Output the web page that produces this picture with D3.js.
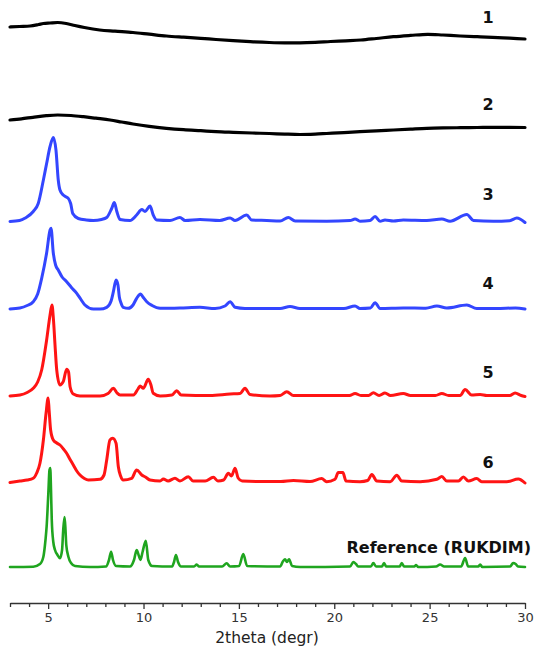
<!DOCTYPE html>
<html><head><meta charset="utf-8">
<script src="https://cdn.jsdelivr.net/npm/d3@7"></script>
<style>body{margin:0;background:#fff}svg{display:block}</style>
</head><body>
<svg id="chart" width="538" height="649"></svg>
<script>
// ---- data: [2theta, intensity above own baseline] ----
const pattern1 = [[3,16],[3.5,16.5],[4.05,17],[4.5,18.5],[4.75,19.5],[5.1,20],[5.5,20.5],[5.95,19.5],[6.4,17.5],[6.9,15.5],[7.7,13],[8.5,11.8],[9.45,10.5],[10.3,8.8],[11.2,7],[12.1,5.8],[13,4.7],[13.8,3.5],[14.7,2.3],[15.6,1.3],[16.6,0.5],[17.4,0.2],[18.2,0.2],[19,0.6],[19.8,1.5],[20.6,2.2],[21.4,3],[22.2,4.5],[23.1,6.3],[24,7.6],[24.9,8.7],[25.7,8],[26.6,7],[27.5,6.3],[28.3,5.7],[29.2,4.8],[30,4]];
const pattern2 = [[3,15],[3.6,16.2],[4.2,17.7],[4.9,19.3],[5.5,20],[6.2,19.5],[6.85,18.3],[7.5,16.8],[8.25,15],[8.85,13],[9.45,11],[10.3,8.6],[11.2,6.7],[12.1,5.3],[13,4.3],[13.8,3.4],[14.7,2.7],[15.7,2],[16.6,1.5],[17.4,0.9],[18.2,0.5],[19,0.9],[19.6,1.5],[20.5,2.4],[21.35,3.3],[22.2,4.1],[23.1,5],[24,5.9],[24.85,6.7],[25.7,7.1],[26.6,7.3],[27.5,7.5],[28.35,7.7],[29.2,7.7],[30,7.5]];
const pattern3 = [[3,0],[3.5,1],[3.8,3.5],[4.22,10],[4.48,18],[4.75,41.5],[4.92,58],[5.1,75],[5.27,84],[5.41,71.5],[5.53,41.5],[5.62,31.5],[5.79,26.5],[5.95,24.5],[6.06,23],[6.18,18],[6.29,8],[6.58,3],[7,1.5],[7.37,1],[7.8,2],[8.07,4],[8.33,13],[8.47,19],[8.6,10],[8.77,2],[9.29,1],[9.64,6.5],[9.91,12],[10.08,10],[10.34,15.5],[10.51,6.5],[10.69,1.5],[11.39,1],[11.91,4],[12.18,1],[12.96,2],[14,1],[14.54,3.5],[14.8,1],[15.41,6.5],[15.67,1.5],[16.46,1],[17.16,0.5],[17.59,4],[17.95,0.5],[19.6,0.3],[20.83,1],[21.09,2.5],[21.35,0.3],[21.88,1],[22.14,5],[22.4,0.3],[22.66,1.5],[23.1,0.5],[23.62,1.5],[24.85,1],[25.64,2.5],[26.07,0.3],[26.95,7],[27.3,1],[28.34,0.3],[29.2,0.8],[29.57,3.5],[30,-1]];
const pattern4 = [[3,0],[3.52,1],[3.9,3.5],[4.22,7.3],[4.45,15],[4.66,30.7],[4.92,56],[5.1,79],[5.15,80.7],[5.27,56],[5.39,44],[5.53,39],[5.73,32],[5.97,27.3],[6.22,21.5],[6.5,15.7],[6.72,9.5],[6.93,4],[7.37,0],[7.72,0],[8.07,1.7],[8.3,8],[8.42,17.3],[8.56,29],[8.66,24],[8.73,12.3],[8.82,6],[8.94,1.7],[9.2,0.7],[9.45,4],[9.64,10.7],[9.85,15],[9.97,12],[10.17,7.3],[10.45,3.5],[10.87,0.7],[11.91,1],[12.96,1.7],[13.75,0.5],[14.27,3],[14.54,7.3],[14.8,1.7],[15.32,0.5],[17.16,0.5],[17.68,2.5],[18.2,0.5],[19.26,0.5],[20.5,0.5],[21.09,3],[21.35,0.5],[21.9,1],[22.14,6.3],[22.4,0.5],[23.62,1],[24.8,0.8],[25.38,3],[25.9,1],[26.95,4],[27.47,0.5],[28.5,0.5],[29.5,1],[30,0]];
const pattern5 = [[3,0],[3.52,1],[3.9,3.5],[4.22,7.7],[4.45,14],[4.66,26],[4.92,56],[5.1,81],[5.2,91],[5.28,76],[5.36,51],[5.45,26],[5.62,11],[5.79,14.3],[5.97,26.7],[6.07,24],[6.15,9.3],[6.32,2],[6.67,0],[7.72,0],[8.14,2.5],[8.42,7.7],[8.61,3],[8.77,1],[9.47,1],[9.71,7],[9.82,10],[9.99,7.7],[10.25,16.7],[10.39,11],[10.51,2.7],[10.87,0],[11.49,1],[11.74,5.3],[11.97,1],[13.49,0.5],[14.54,2],[15.06,2.5],[15.32,7.7],[15.58,1.5],[16.63,0],[17.16,0.5],[17.51,4.3],[17.86,0.5],[20.8,0.5],[21.09,2.5],[21.4,0.5],[21.8,0.5],[22.05,3.3],[22.35,0.5],[22.66,3],[22.95,0.5],[23.62,2.5],[24,0.5],[25.3,0.5],[25.64,2.5],[26,0.5],[26.6,0.5],[26.86,6.5],[27.2,1],[27.65,1.5],[28,0.5],[29.2,0.5],[29.48,3],[29.8,0.5],[30,-0.5]];
const pattern6 = [[3,-0.5],[3.52,1],[3.9,2],[4.22,3.7],[4.4,9],[4.57,18.7],[4.75,42],[4.89,68.7],[5,84],[5.05,72],[5.13,52],[5.27,42],[5.45,39],[5.62,37],[5.8,33],[5.97,28.7],[6.15,22.5],[6.32,17],[6.5,11],[6.67,7],[6.9,3.5],[7.11,2],[7.72,2.7],[7.93,7],[8.07,22],[8.24,42],[8.39,43.7],[8.56,38.7],[8.68,15.3],[8.8,6],[8.94,2],[9.38,3.7],[9.64,12],[9.91,7],[10.1,5],[10.34,2],[10.87,1],[11.04,3],[11.29,1],[11.65,3.7],[11.91,1],[12.35,5.3],[12.6,1],[13.23,1],[13.66,4.7],[13.9,1],[14.2,2],[14.45,8.7],[14.61,6],[14.8,13.7],[14.96,4],[15.17,1],[16.11,0.5],[17.2,0.5],[17.86,1.5],[18.73,0.5],[19.34,3.4],[19.6,0.3],[20.04,2.7],[20.21,9.4],[20.45,9.4],[20.62,1],[21.35,0.3],[21.75,1.5],[21.97,7.4],[22.23,1],[22.93,0.3],[23.28,6.7],[23.54,1],[24.5,0.3],[25.38,2.7],[25.64,5.4],[25.9,1],[26.51,1],[26.77,5],[27.03,1],[27.47,3.4],[27.73,0.3],[29.05,0.3],[29.65,3],[30,-1]];
const patternRef = [[3,0],[4.22,0.3],[4.57,3],[4.75,10.3],[4.86,27],[4.92,40.3],[5.01,73.7],[5.07,97],[5.11,99],[5.15,77],[5.19,47],[5.27,25],[5.36,17],[5.49,12],[5.62,8.7],[5.73,17],[5.79,37],[5.86,50],[5.91,37],[5.95,22],[6.06,10.3],[6.2,4],[6.41,1],[7.2,0],[8.03,0.5],[8.19,7],[8.3,15.3],[8.4,7],[8.56,1],[9.29,0.5],[9.5,7],[9.64,17],[9.76,11],[9.84,7],[9.95,15],[10.12,26.3],[10.25,7],[10.45,1],[11.5,0.5],[11.6,5],[11.7,12],[11.81,5],[11.97,0.5],[12.65,0.5],[12.79,2.5],[12.91,0.5],[14.12,0.5],[14.36,3.7],[14.54,0.5],[15.01,1],[15.23,13],[15.43,1],[17.16,0.5],[17.32,6],[17.42,7.7],[17.52,5],[17.63,7.7],[17.79,1],[18.21,0],[20.83,0.5],[21,5],[21.14,3],[21.25,0.5],[21.92,0.5],[22.05,4],[22.19,0.5],[22.5,0.5],[22.61,4],[22.72,0.5],[23.43,0.5],[23.54,4],[23.66,0.5],[24.2,0.5],[24.29,2],[24.4,0],[25.34,0.5],[25.55,2.5],[25.76,0.5],[26.65,0.5],[26.86,9],[27.02,0.5],[27.55,0.5],[27.65,2.5],[27.76,0],[29.22,0.5],[29.38,4],[29.51,3],[29.64,0.5],[30,0]];

const seriesNames = ["1","2","3","4","5","6","Reference (RUKDIM)"];
const seriesData = [pattern1, pattern2, pattern3, pattern4, pattern5, pattern6, patternRef];
const seriesOffsets = [559, 467, 380.5, 293, 206, 120, 35];
const xMajorTicks = [5, 10, 15, 20, 25, 30];
const xMinorTicks = [3,4,6,7,8,9,11,12,13,14,16,17,18,19,21,22,23,24,26,27,28,29];
const xTitle = "2theta (degr)";

// ---- styles / layout ----
const seriesColors = ["#000000","#000000","#3346ff","#3346ff","#ff1414","#ff1414","#1fa51f"];
const seriesWidths = [3.2, 3.2, 3, 3, 3, 3, 2.6];
const labelPos = [[488,23],[488,110],[488,200],[488,289],[488,378],[488,468],[531,553]];
const labelAnchor = ["middle","middle","middle","middle","middle","middle","end"];

const svg = d3.select("#chart");
const x = d3.scaleLinear().domain([3, 30]).range([10, 525]);
const y = d3.scaleLinear().domain([0, 600]).range([602, 2]);
const axisY = 603;

const line = d3.line()
  .x(d => x(d[0]))
  .y(d => y(d[1]))
  .curve(d3.curveMonotoneX);

seriesData.forEach((data, i) => {
  const off = seriesOffsets[i];
  svg.append("path")
    .attr("d", line(data.map(d => [d[0], d[1] + off])))
    .attr("fill", "none")
    .attr("stroke", seriesColors[i])
    .attr("stroke-width", seriesWidths[i])
    .attr("stroke-linejoin", "round")
    .attr("stroke-linecap", "round");
});

svg.selectAll("text.lbl").data(seriesNames).enter().append("text")
  .attr("class","lbl")
  .attr("x", (d,i) => labelPos[i][0])
  .attr("y", (d,i) => labelPos[i][1])
  .attr("text-anchor", (d,i) => labelAnchor[i])
  .attr("font-family", "'DejaVu Sans', sans-serif")
  .attr("font-weight", "bold")
  .attr("font-size", 16)
  .attr("fill", "#111")
  .text(d => d);

// axis
const gMinor = svg.append("g").attr("transform", `translate(0,${axisY})`)
  .call(d3.axisBottom(x).tickValues(xMinorTicks).tickSize(4).tickFormat(""));
gMinor.select(".domain").remove();
const gMajor = svg.append("g").attr("transform", `translate(0,${axisY})`)
  .call(d3.axisBottom(x).tickValues(xMajorTicks).tickSize(6).tickSizeOuter(0).tickPadding(4).tickFormat(d3.format("d")));
svg.selectAll(".tick line").attr("stroke", "#333").attr("stroke-width", 1.3);
gMajor.select(".domain").attr("stroke", "#333").attr("stroke-width", 1.5);
gMajor.selectAll(".tick text")
  .attr("font-family", "'DejaVu Sans', sans-serif")
  .attr("font-size", 13)
  .attr("fill", "#333");

svg.append("text")
  .attr("x", 267).attr("y", 643)
  .attr("text-anchor", "middle")
  .attr("font-family", "'DejaVu Sans', sans-serif")
  .attr("font-size", 15.5)
  .attr("fill", "#222")
  .text(xTitle);
</script>
</body></html>
